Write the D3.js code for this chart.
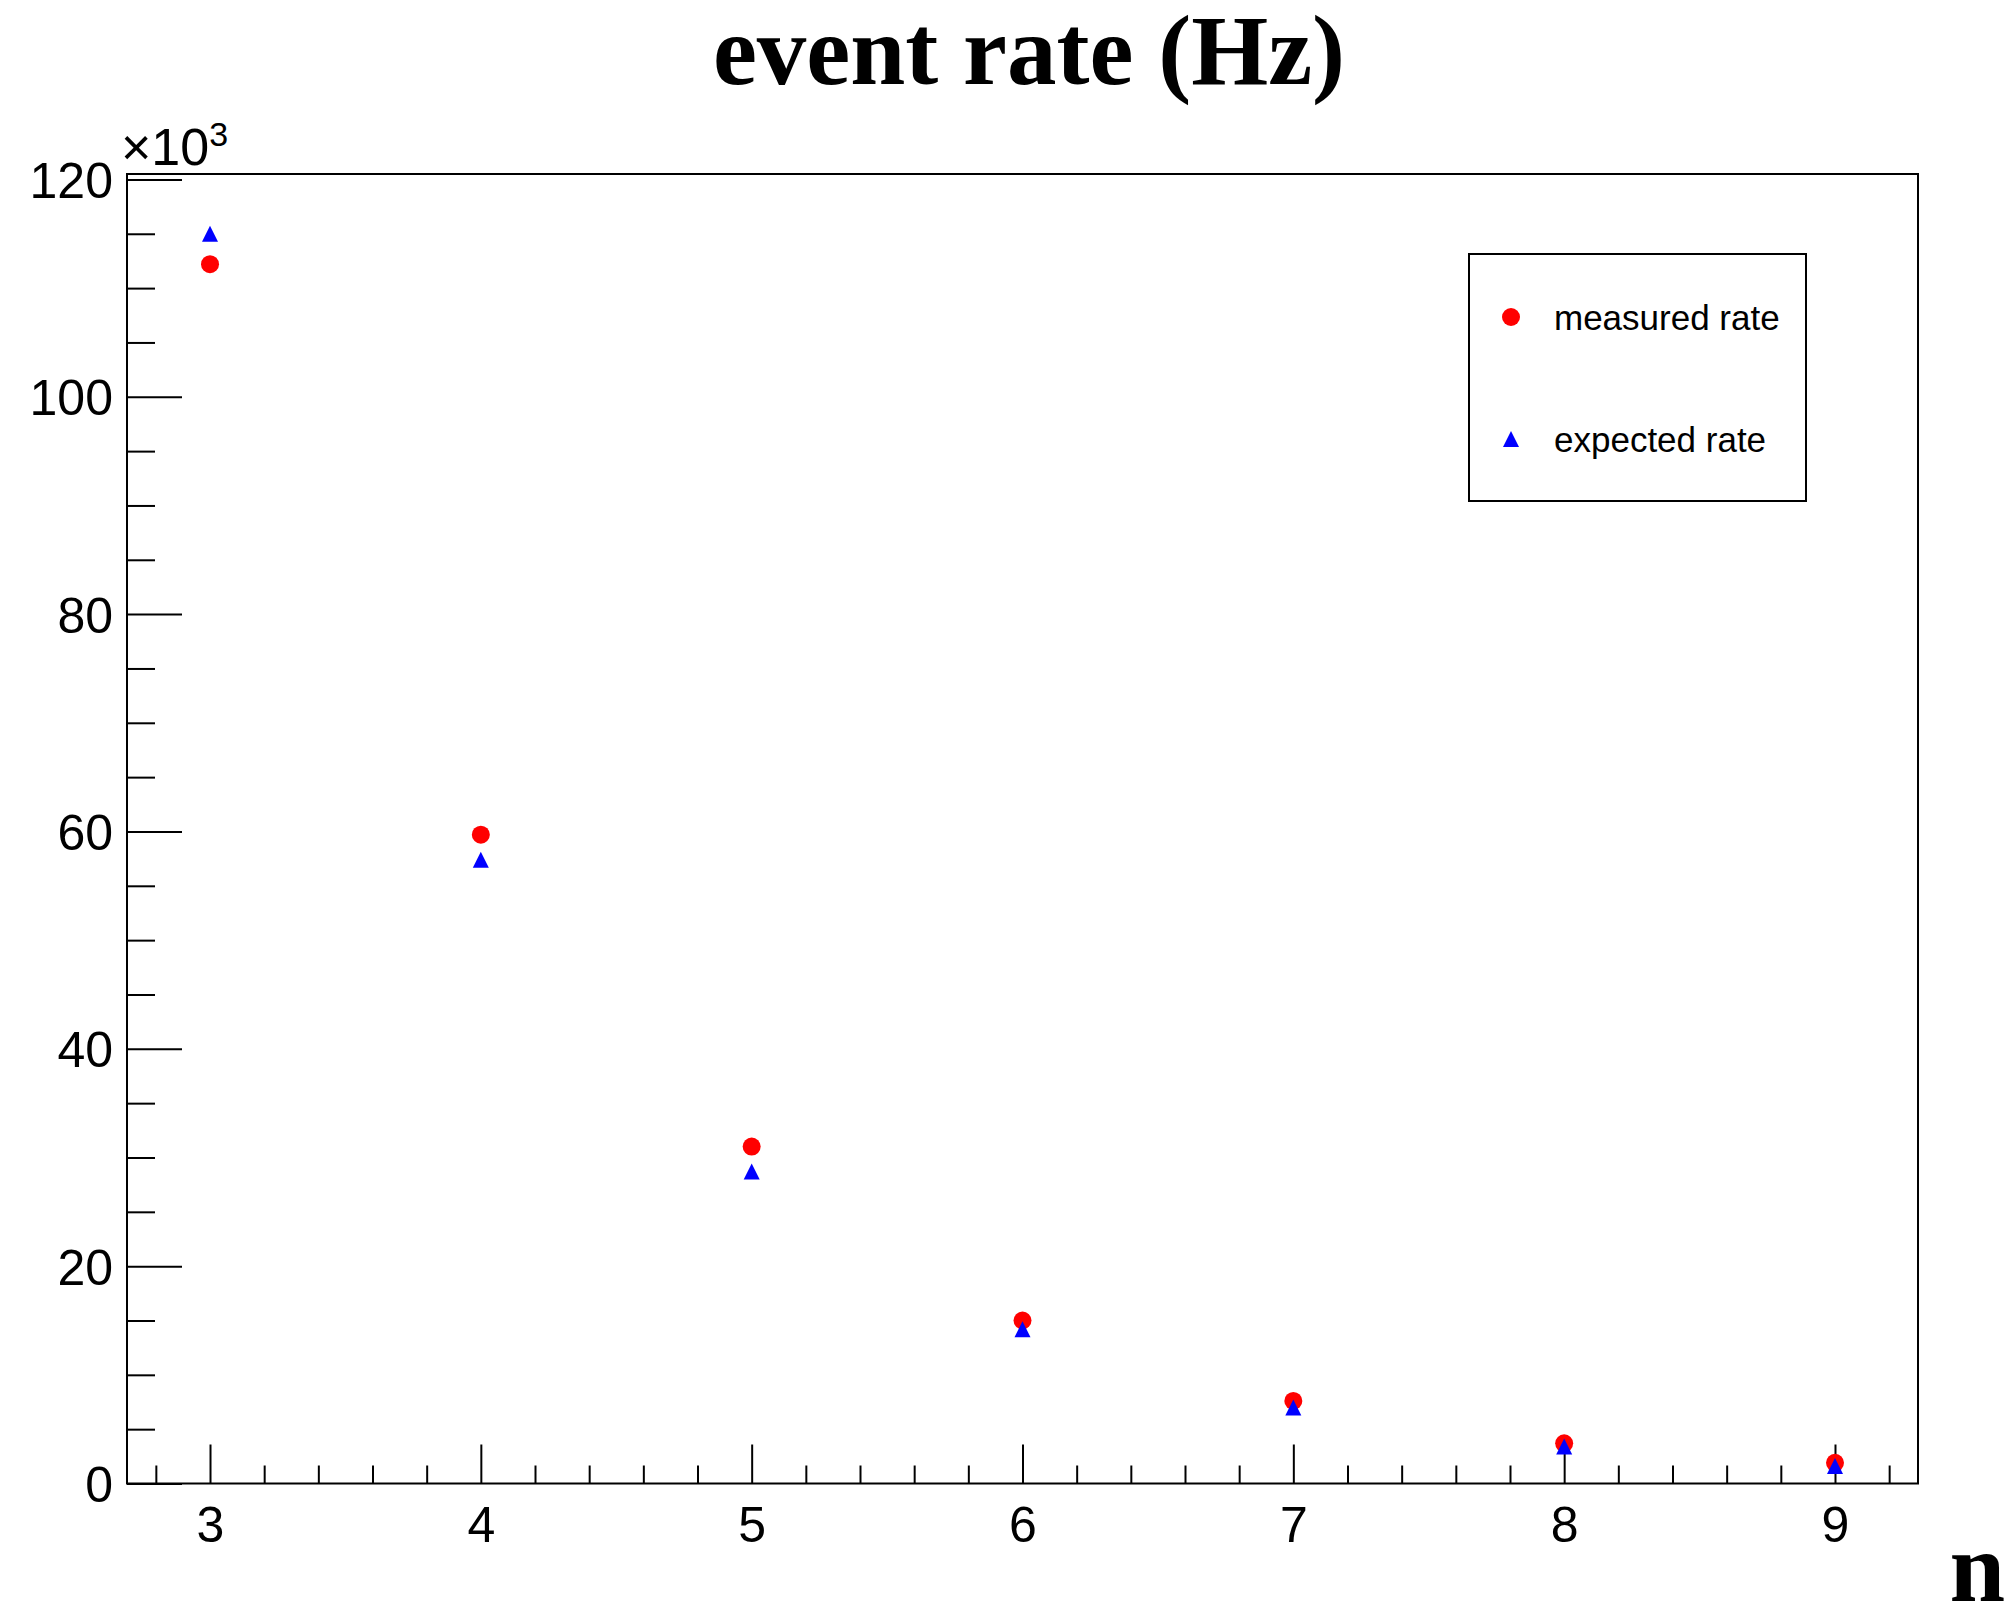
<!DOCTYPE html>
<html>
<head>
<meta charset="utf-8">
<script src="https://cdn.jsdelivr.net/npm/d3@7"></script>
<style>
  body { margin: 0; background: #fff; }
  svg { display: block; }
</style>
</head>
<body>
<script>
const width = 2008;
const height = 1608;

// data (rate in units of 10^3 Hz)
const nValues = [3, 4, 5, 6, 7, 8, 9];
const measured = [112.2, 59.7, 31.0, 15.0, 7.6, 3.7, 1.9];
const expected = [115.0, 57.4, 28.7, 14.2, 7.0, 3.4, 1.6];
const seriesNames = ["measured rate", "expected rate"];
const xTicks = [3, 4, 5, 6, 7, 8, 9];
const yTicks = [0, 20, 40, 60, 80, 100, 120];

const frame = { left: 127, right: 1918, top: 174, bottom: 1483.5 };

const svg = d3.select("body").append("svg")
  .attr("width", width)
  .attr("height", height)
  .attr("viewBox", `0 0 ${width} ${height}`);

const x = d3.scaleLinear()
  .domain([2.6935, 9.3065])
  .range([frame.left, frame.right]);

const y = d3.scaleLinear()
  .domain([0, 120.5])
  .range([frame.bottom, frame.top]);

const sans = "'Liberation Sans', Arial, Helvetica, sans-serif";
const serif = "'Liberation Serif', 'Times New Roman', serif";

// title
svg.append("text")
  .attr("x", 1029)
  .attr("y", 84)
  .attr("text-anchor", "middle")
  .style("font-family", serif)
  .style("font-weight", "bold")
  .style("font-size", "99px")
  .text("event rate (Hz)");

// frame
svg.append("rect")
  .attr("x", frame.left)
  .attr("y", frame.top)
  .attr("width", frame.right - frame.left)
  .attr("height", frame.bottom - frame.top)
  .style("fill", "none")
  .style("stroke", "#000")
  .style("stroke-width", 2);

// x axis ticks (major + minor every 0.2)
const xMinor = d3.range(28, 94, 2).map((v) => v / 10).filter((v) => !xTicks.includes(v));
const xAxisMajor = d3.axisBottom(x).tickValues(xTicks).tickSize(-39).tickPadding(58).tickFormat(d3.format("d"));
const xAxisMinor = d3.axisBottom(x).tickValues(xMinor).tickSize(-18).tickFormat("");

const gx = svg.append("g").attr("transform", `translate(0,${frame.bottom})`);
gx.call(xAxisMajor);
gx.append("g").call(xAxisMinor);

// y axis ticks (major every 20, minor every 5)
const yMinor = d3.range(5, 121, 5).filter((v) => !yTicks.includes(v));
const yAxisMajor = d3.axisLeft(y).tickValues(yTicks).tickSize(-55).tickPadding(14).tickFormat(d3.format("d"));
const yAxisMinor = d3.axisLeft(y).tickValues(yMinor).tickSize(-28).tickFormat("");

const gy = svg.append("g").attr("transform", `translate(${frame.left},0)`);
gy.call(yAxisMajor);
gy.append("g").call(yAxisMinor);

svg.selectAll(".domain").remove();
svg.selectAll(".tick line").style("stroke", "#000").style("stroke-width", 2);
svg.selectAll(".tick text")
  .style("font-family", sans)
  .style("font-size", "50px")
  .style("fill", "#000");
gx.selectAll(".tick text").attr("dy", "0");
gy.selectAll(".tick text").attr("dy", "0.36em");

// x10^3 exponent label
const expo = svg.append("text")
  .attr("x", 121)
  .attr("y", 165)
  .style("font-family", sans)
  .style("font-size", "52px");
expo.append("tspan").text("\u00d710");
expo.append("tspan").attr("dy", -19).style("font-size", "34px").text("3");

// x axis title
svg.append("text")
  .attr("x", 2005)
  .attr("y", 1601)
  .attr("text-anchor", "end")
  .style("font-family", serif)
  .style("font-weight", "bold")
  .style("font-size", "100px")
  .text("n");

// markers
const circleSym = d3.symbol().type(d3.symbolCircle).size(Math.PI * 9 * 9);
const triSize = 16;
const triPath = `M0,${-triSize / 2}L${triSize / 2},${triSize / 2}L${-triSize / 2},${triSize / 2}Z`;

const measuredData = nValues.map((n, i) => ({ n, v: measured[i] }));
const expectedData = nValues.map((n, i) => ({ n, v: expected[i] }));

svg.append("g").selectAll("path")
  .data(measuredData)
  .enter()
  .append("path")
  .attr("d", circleSym)
  .attr("transform", (d) => `translate(${x(d.n)},${y(d.v)})`)
  .style("fill", "#ff0000");

svg.append("g").selectAll("path")
  .data(expectedData)
  .enter()
  .append("path")
  .attr("d", triPath)
  .attr("transform", (d) => `translate(${x(d.n)},${y(d.v)})`)
  .style("fill", "#0000ff");

// legend
const legend = svg.append("g");
legend.append("rect")
  .attr("x", 1469)
  .attr("y", 254)
  .attr("width", 337)
  .attr("height", 247)
  .style("fill", "#fff")
  .style("stroke", "#000")
  .style("stroke-width", 2);

const legendRows = [
  { name: seriesNames[0], cy: 317, shape: "circle" },
  { name: seriesNames[1], cy: 439, shape: "tri" }
];

legendRows.forEach((row) => {
  legend.append("path")
    .attr("d", row.shape === "circle" ? circleSym : triPath)
    .attr("transform", `translate(1511,${row.cy})`)
    .style("fill", row.shape === "circle" ? "#ff0000" : "#0000ff");
  legend.append("text")
    .attr("x", 1554)
    .attr("y", row.cy + 13)
    .style("font-family", sans)
    .style("font-size", "35px")
    .text(row.name);
});
</script>
</body>
</html>
